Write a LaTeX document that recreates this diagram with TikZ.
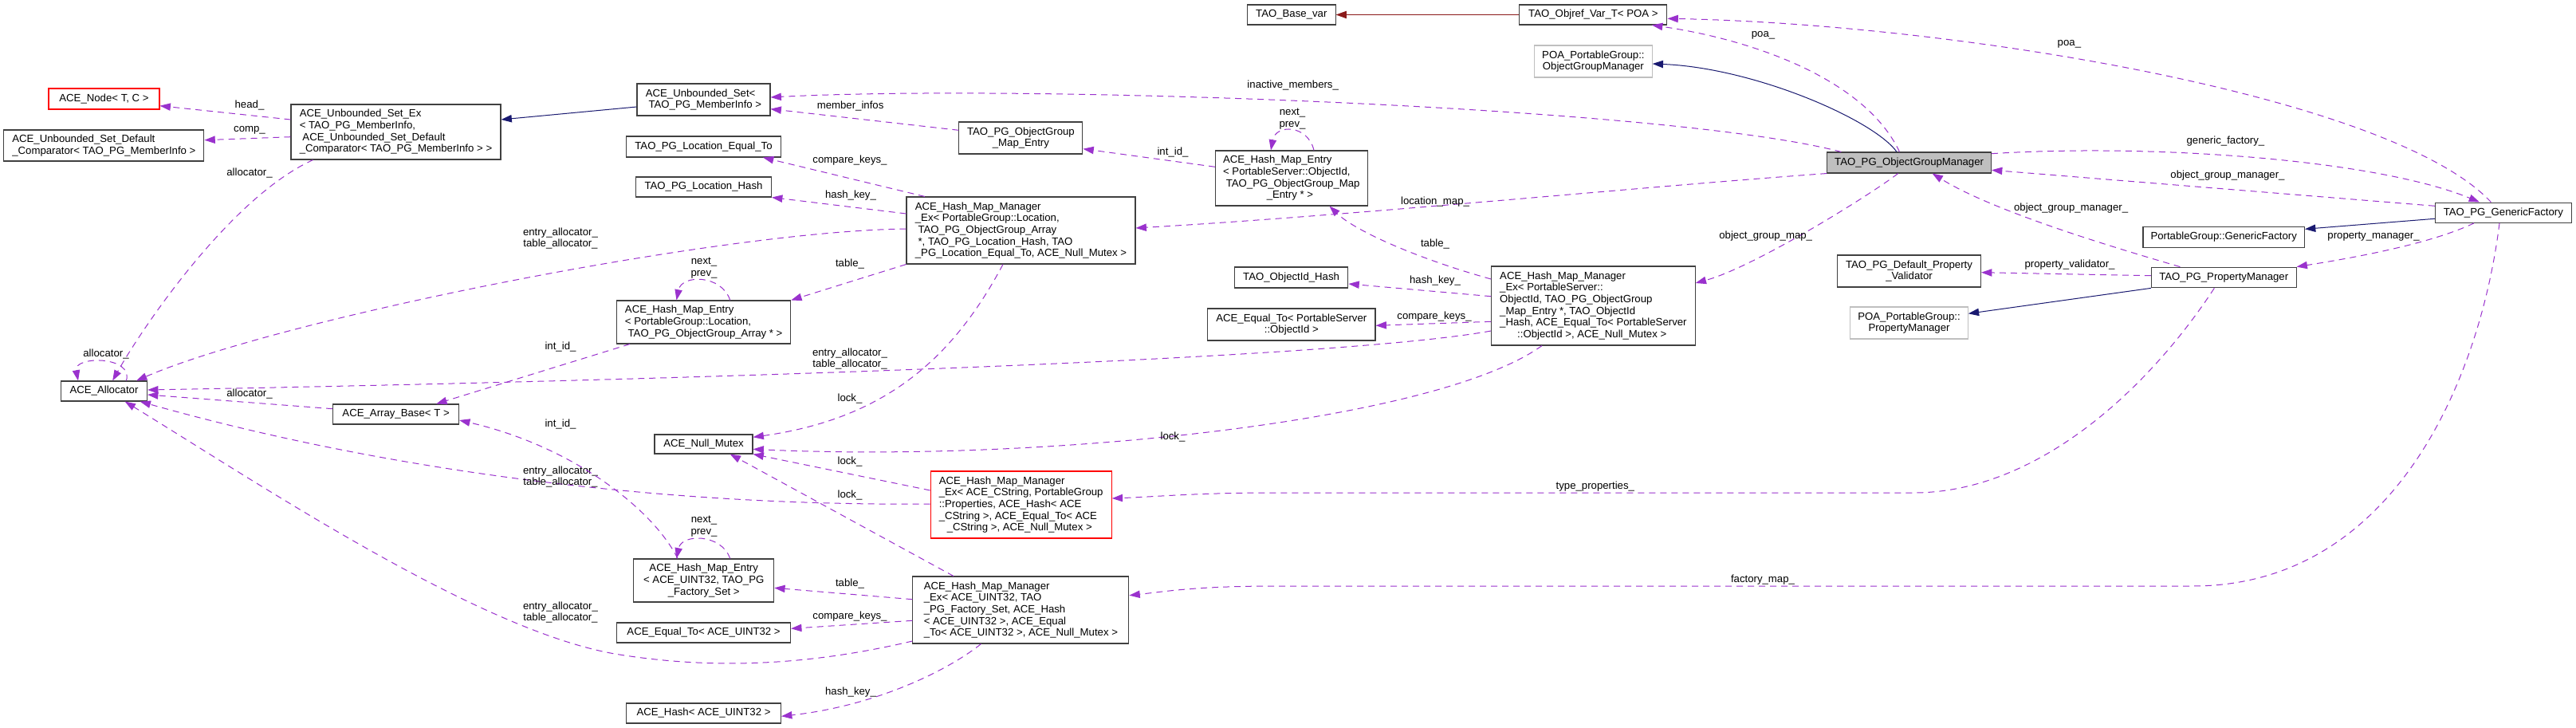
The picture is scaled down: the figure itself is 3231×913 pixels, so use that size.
\documentclass[tikz,border=0pt]{standalone}
\usepackage{fontspec}
\setsansfont{Liberation Sans}
\usetikzlibrary{arrows.meta}

\definecolor{usecol}{HTML}{9A32CD}
\definecolor{inhcol}{HTML}{191970}
\definecolor{privcol}{HTML}{8B1A1A}
\definecolor{extcol}{HTML}{BFBFBF}
\definecolor{hlcol}{HTML}{BFBFBF}
\newcommand{\lsp}{\hspace*{0.28em}}

\tikzset{
  cls/.style={draw=black!75, line width=0.8pt, inner sep=1pt, fill=white},
  clsred/.style={cls, draw=red},
  clsext/.style={cls, draw=extcol},
  clshl/.style={cls, fill=hlcol},
  sz/.style 2 args={minimum width=#1*0.75pt, minimum height=#2*0.75pt},
  usage/.style={->, usecol, line width=0.75pt, dash pattern=on 6pt off 4.5pt},
  pubinh/.style={->, inhcol, line width=0.75pt},
  privinh/.style={->, privcol, line width=0.75pt},
  lbl/.style={inner sep=0pt, align=center},
}

\begin{document}
\begin{tikzpicture}[x=0.75pt,y=-0.75pt,>={Triangle[length=10pt,width=7pt]},
    font=\sffamily\fontsize{9.9pt}{11pt}\selectfont]

    \fill [white] (0,0) rectangle (3231,913);
    \useasboundingbox (0,0) rectangle (3231,913);

    % column 1
    \node [clsred,sz={139}{26}] (Node) at (130.5,124) {ACE\_Node< T, C >};
    \node [cls,sz={251}{39},align=left] (DefCmp) at (130.4,182.5)
        {ACE\_Unbounded\_Set\_Default\\\_Comparator< TAO\_PG\_MemberInfo >};
    \node [cls,sz={108}{25}] (Alloc) at (130.5,490.5) {ACE\_Allocator};

    % column 2
    \node [cls,sz={263}{69},align=left] (SetEx) at (496.5,165.5)
        {ACE\_Unbounded\_Set\_Ex\\< TAO\_PG\_MemberInfo,\\\lsp ACE\_Unbounded\_Set\_Default\\\_Comparator< TAO\_PG\_MemberInfo > >};
    \node [cls,sz={158}{25}] (ArrayBase) at (496.6,519.5) {ACE\_Array\_Base< T >};

    % column 3
    \node [cls,sz={167}{40},align=left] (Set) at (882.5,125)
        {ACE\_Unbounded\_Set<\\\lsp TAO\_PG\_MemberInfo >};
    \node [cls,sz={194}{26}] (LocEq) at (882.5,184) {TAO\_PG\_Location\_Equal\_To};
    \node [cls,sz={170}{25}] (LocHash) at (882.5,234.5) {TAO\_PG\_Location\_Hash};
    \node [cls,sz={218}{54},align=left] (LocEntry) at (882.7,404)
        {ACE\_Hash\_Map\_Entry\\< PortableGroup::Location,\\\lsp TAO\_PG\_ObjectGroup\_Array * >};
    \node [cls,sz={123}{24}] (NullMutex) at (882.5,557) {ACE\_Null\_Mutex};
    \node [cls,sz={176}{54},align=center] (U32Entry) at (882.7,728)
        {ACE\_Hash\_Map\_Entry\\< ACE\_UINT32, TAO\_PG\\\_Factory\_Set >};
    \node [cls,sz={218}{25}] (EqU32) at (882.6,793.5) {ACE\_Equal\_To< ACE\_UINT32 >};
    \node [cls,sz={194}{25}] (HashU32) at (882.5,894.5) {ACE\_Hash< ACE\_UINT32 >};

    % column 4
    \node [cls,sz={155}{40},align=center] (MapEntry) at (1280.4,173)
        {TAO\_PG\_ObjectGroup\\\_Map\_Entry};
    \node [cls,sz={287}{84},align=left] (LocMgr) at (1280.5,289)
        {ACE\_Hash\_Map\_Manager\\\_Ex< PortableGroup::Location,\\\lsp TAO\_PG\_ObjectGroup\_Array\\\lsp *, TAO\_PG\_Location\_Hash, TAO\\\_PG\_Location\_Equal\_To, ACE\_Null\_Mutex >};
    \node [clsred,sz={227}{84},align=left] (CStrMgr) at (1280.7,633)
        {ACE\_Hash\_Map\_Manager\\\_Ex< ACE\_CString, PortableGroup\\::Properties, ACE\_Hash< ACE\\\_CString >, ACE\_Equal\_To< ACE\\\hspace*{7.5pt}\_CString >, ACE\_Null\_Mutex >};
    \node [cls,sz={271}{84},align=left] (U32Mgr) at (1280.4,765)
        {ACE\_Hash\_Map\_Manager\\\_Ex< ACE\_UINT32, TAO\\\_PG\_Factory\_Set, ACE\_Hash\\< ACE\_UINT32 >, ACE\_Equal\\\_To< ACE\_UINT32 >, ACE\_Null\_Mutex >};

    % column 5
    \node [cls,sz={110.5}{25}] (BaseVar) at (1619.8,18.5) {TAO\_Base\_var};
    \node [cls,sz={190.5}{69},align=left] (IdEntry) at (1619.8,223.5)
        {ACE\_Hash\_Map\_Entry\\< PortableServer::ObjectId,\\\lsp TAO\_PG\_ObjectGroup\_Map\\\hspace*{41pt}\_Entry * >};
    \node [cls,sz={142.6}{26}] (IdHash) at (1619.6,348) {TAO\_ObjectId\_Hash};
    \node [cls,sz={210.4}{40},align=center] (EqId) at (1619.8,407)
        {ACE\_Equal\_To< PortableServer\\::ObjectId >};

    % column 6
    \node [cls,sz={185}{25}] (Objref) at (1998.4,18.5) {TAO\_Objref\_Var\_T< POA >};
    \node [clsext,sz={147.4}{40},align=center] (POAOgm) at (1998.4,77)
        {POA\_PortableGroup::\\ObjectGroupManager};
    \node [cls,sz={255.5}{99},align=left] (IdMgr) at (1998.4,383.5)
        {ACE\_Hash\_Map\_Manager\\\_Ex< PortableServer::\\ObjectId, TAO\_PG\_ObjectGroup\\\_Map\_Entry *, TAO\_ObjectId\\\_Hash, ACE\_Equal\_To< PortableServer\\\hspace*{16.5pt}::ObjectId >, ACE\_Null\_Mutex >};

    % column 7
    \node [clshl,sz={205.7}{26}] (OGM) at (2394.6,204) {TAO\_PG\_ObjectGroupManager};
    \node [cls,sz={180}{40},align=center] (DefVal) at (2394.5,340)
        {TAO\_PG\_Default\_Property\\\_Validator};
    \node [clsext,sz={147.5}{40},align=center] (POAPm) at (2394.5,405)
        {POA\_PortableGroup::\\PropertyManager};

    % column 8 and 9
    \node [cls,sz={202.5}{25.7}] (PGGf) at (2789.2,297.2) {PortableGroup::GenericFactory};
    \node [cls,sz={181.7}{25.7}] (PropMgr) at (2789.2,348) {TAO\_PG\_PropertyManager};
    \node [cls,sz={171}{25.3}] (GenFac) at (3139.8,266.7) {TAO\_PG\_GenericFactory};

    % inheritance
    \draw [pubinh] (Set.west |- 0,134) -- (SetEx.east |- 0,150);
    \draw [privinh] (Objref.west) -- (BaseVar.east);
    \draw [pubinh] (OGM.north -| 2379,0) .. controls (2350,150) and (2200,85) .. (POAOgm.east |- 0,80);
    \draw [pubinh] (PropMgr.south west) -- (POAPm.east |- 0,393.3);
    \draw [pubinh] (GenFac.west |- 0,274.3) -- (PGGf.east |- 0,287.3);

    % members of ACE_Unbounded_Set_Ex
    \draw [usage] (SetEx.west |- 0,150) -- (Node.east |- 0,132.7);
    \draw [usage] (SetEx.west |- 0,171.7) -- (DefCmp.east |- 0,175.7);
    \draw [usage] (SetEx.south -| 392.6,0) .. controls (288,248) and (176.7,414) .. (Alloc.north -| 141.2,0);
    \node [lbl] (lHead) at (313,131.7) {head\_};
    \node [lbl] (lComp) at (313,163) {comp\_};
    \node [lbl] (lAllocA) at (313,216.7) {allocator\_};

    % allocators
    \draw [usage] (Alloc.north -| 158.4,0) .. controls (168,446) and (92,446) .. (Alloc.north -| 98,0);
    \draw [usage] (LocMgr.west |- 0,287) .. controls (900,290) and (350,400) .. (Alloc.north -| 171,0);
    \draw [usage] (IdMgr.west |- 0,415) .. controls (1650,455) and (700,480) .. (Alloc.east |- 0,489);
    \draw [usage] (ArrayBase.west |- 0,512.7) -- (Alloc.east |- 0,495);
    \draw [usage] (CStrMgr.west |- 0,632) .. controls (850,635) and (500,595) .. (Alloc.south -| 175.6,0);
    \draw [usage] (U32Mgr.west |- 0,804) .. controls (1000,838) and (880,838) .. (771,820)
        .. controls (600,790) and (330,610) .. (Alloc.south -| 156.7,0);
    \node [lbl] (lAllocSelf) at (133,444.3) {allocator\_};
    \node [lbl] (lAllocB) at (313,494) {allocator\_};
    \node [lbl] (lLocAlloc) at (703,299) {entry\_allocator\_\\table\_allocator\_};
    \node [lbl] (lCStrAlloc) at (703,598) {entry\_allocator\_\\table\_allocator\_};
    \node [lbl] (lU32Alloc) at (703,768) {entry\_allocator\_\\table\_allocator\_};
    \node [lbl] (lIdAlloc) at (1066,450) {entry\_allocator\_\\table\_allocator\_};

    % array base and entries
    \draw [usage] (LocEntry.south -| 790,0) -- (ArrayBase.north -| 547.2,0);
    \draw [usage] (U32Entry.north -| 850,0) .. controls (820,640) and (720,560) .. (ArrayBase.east |- 0,527);
    \draw [usage] (LocEntry.north -| 915.7,0) .. controls (905,344) and (855,344) .. (LocEntry.north -| 848.5,0);
    \draw [usage] (U32Entry.north -| 915.7,0) .. controls (905,669) and (855,669) .. (U32Entry.north -| 848.5,0);
    \node [lbl] (lIntA) at (703,435) {int\_id\_};
    \node [lbl] (lIntB) at (703,532) {int\_id\_};
    \node [lbl] (lLocNext) at (883,336) {next\_\\prev\_};
    \node [lbl] (lU32Next) at (883,660) {next\_\\prev\_};

    % location map manager
    \draw [usage] (LocMgr.north -| 1159.9,0) -- (LocEq.south -| 957,0);
    \draw [usage] (LocMgr.west |- 0,268) -- (LocHash.south east);
    \draw [usage] (LocMgr.south west) -- (LocEntry.north east);
    \draw [usage] (LocMgr.south -| 1258,0) .. controls (1195,450) and (1110,525) .. (NullMutex.east |- 0,548.3);
    \node [lbl] (lLocCmp) at (1066,201) {compare\_keys\_};
    \node [lbl] (lLocHash) at (1067,245) {hash\_key\_};
    \node [lbl] (lLocTable) at (1066,331) {table\_};
    \node [lbl] (lLockA) at (1066,500) {lock\_};

    % string and uint32 map managers
    \draw [usage] (CStrMgr.west |- 0,615) -- (NullMutex.south east);
    \draw [usage] (U32Mgr.north -| 1196,0) -- (NullMutex.south -| 915.7,0);
    \draw [usage] (U32Mgr.west |- 0,751.7) -- (U32Entry.east |- 0,737.3);
    \draw [usage] (U32Mgr.west |- 0,778.3) -- (EqU32.east |- 0,788.3);
    \draw [usage] (U32Mgr.south -| 1230.5,0) .. controls (1190,840) and (1100,885) .. (HashU32.east |- 0,898.3);
    \node [lbl] (lLockB) at (1066,579) {lock\_};
    \node [lbl] (lLockC) at (1066,621) {lock\_};
    \node [lbl] (lU32Table) at (1066,732) {table\_};
    \node [lbl] (lU32Cmp) at (1066,773) {compare\_keys\_};
    \node [lbl] (lU32Hash) at (1067,868) {hash\_key\_};

    % object id map
    \draw [usage] (MapEntry.west |- 0,163.3) -- (Set.east |- 0,136.7);
    \draw [usage] (IdEntry.west |- 0,209.3) -- (MapEntry.east |- 0,186.7);
    \draw [usage] (IdEntry.north -| 1648,0) .. controls (1640,155.7) and (1600,155.7) .. (IdEntry.north -| 1594,0);
    \draw [usage] (IdMgr.west |- 0,350) .. controls (1780,325) and (1700,290) .. (IdEntry.south -| 1667.5,0);
    \draw [usage] (IdMgr.west |- 0,371.7) -- (IdHash.east |- 0,356);
    \draw [usage] (IdMgr.west |- 0,403.3) -- (EqId.east |- 0,408.3);
    \draw [usage] (IdMgr.south -| 1934,0) .. controls (1800,530) and (1300,580) .. (NullMutex.east |- 0,563.3);
    \node [lbl] (lMember) at (1066.6,133) {member\_infos};
    \node [lbl] (lIdInt) at (1471,191) {int\_id\_};
    \node [lbl] (lLockD) at (1471,548) {lock\_};
    \node [lbl] (lIdNext) at (1621,149) {next\_\\prev\_};
    \node [lbl] (lIdTable) at (1800,306) {table\_};
    \node [lbl] (lIdHash) at (1800,351.7) {hash\_key\_};
    \node [lbl] (lIdCmp) at (1799,396.7) {compare\_keys\_};

    % object group manager
    \draw [usage] (OGM.north -| 2309.3,0) .. controls (2100,135) and (1300,105) .. (Set.east |- 0,122);
    \draw [usage] (OGM.south west) .. controls (2050,235) and (1700,270) .. (LocMgr.east |- 0,286);
    \draw [usage] (OGM.south -| 2380.7,0) .. controls (2345,245) and (2200,335) .. (IdMgr.east |- 0,355);
    \draw [usage] (OGM.north -| 2382.5,0) .. controls (2340,100) and (2200,50) .. (Objref.south -| 2072,0);
    \draw [usage] (OGM.east |- 0,192.7) .. controls (2700,180) and (2980,200) .. (GenFac.north -| 3110,0);
    \node [lbl] (lInactive) at (1621.7,107.3) {inactive\_members\_};
    \node [lbl] (lLocMap) at (1800,252.7) {location\_map\_};
    \node [lbl] (lOgMap) at (2214.7,295.7) {object\_group\_map\_};
    \node [lbl] (lPoaA) at (2211.5,44.3) {poa\_};
    \node [lbl] (lGenFac) at (2791.4,176.7) {generic\_factory\_};

    % generic factory and property manager
    \draw [usage] (GenFac.north -| 3124.4,0) .. controls (3000,120) and (2450,30) .. (Objref.east |- 0,23.3);
    \draw [usage] (GenFac.west |- 0,258.3) -- (OGM.east |- 0,213.3);
    \draw [usage] (GenFac.south -| 3103,0) .. controls (3050,305) and (2960,322) .. (PropMgr.north east);
    \draw [usage] (PropMgr.north -| 2734.4,0) .. controls (2650,310) and (2500,265) .. (OGM.south -| 2423.6,0);
    \draw [usage] (PropMgr.west |- 0,345.7) -- (DefVal.east |- 0,341.7);
    \draw [usage] (PropMgr.south -| 2777.3,0) .. controls (2700,480) and (2560,618) .. (2400,618)
        -- (1600,618) .. controls (1500,618) and (1450,623) .. (CStrMgr.east |- 0,625);
    \draw [usage] (GenFac.south -| 3135,0) .. controls (3110,480) and (3000,735) .. (2750,735)
        -- (1600,735) .. controls (1500,735) and (1460,742) .. (U32Mgr.east |- 0,746.7);
    \node [lbl] (lPoaB) at (2595.4,55) {poa\_};
    \node [lbl] (lOgmA) at (2794,220) {object\_group\_manager\_};
    \node [lbl] (lOgmB) at (2597.6,260.7) {object\_group\_manager\_};
    \node [lbl] (lPropVal) at (2596,332.3) {property\_validator\_};
    \node [lbl] (lPropMgr) at (2977,296.7) {property\_manager\_};
    \node [lbl] (lTypeProp) at (2000.8,610) {type\_properties\_};
    \node [lbl] (lFacMap) at (2211,726.7) {factory\_map\_};

\end{tikzpicture}
\end{document}
